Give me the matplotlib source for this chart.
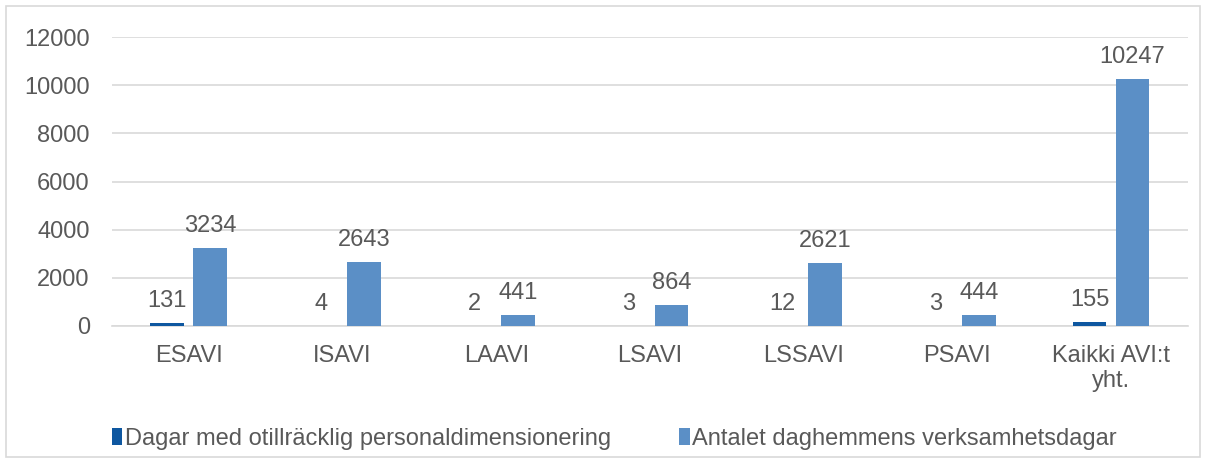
import matplotlib
matplotlib.use("Agg")
import matplotlib.pyplot as plt
import numpy as np
from matplotlib.patches import Rectangle

categories = ["ESAVI", "ISAVI", "LAAVI", "LSAVI", "LSSAVI", "PSAVI", "Kaikki AVI:t\nyht."]
dagar = [131, 4, 2, 3, 12, 3, 155]
antal = [3234, 2643, 441, 864, 2621, 444, 10247]
series_names = ["Dagar med otillräcklig personaldimensionering",
                "Antalet daghemmens verksamhetsdagar"]
yticks = [0, 2000, 4000, 6000, 8000, 10000, 12000]

plt.rcParams['font.family'] = ['Liberation Sans', 'DejaVu Sans']
txt = '#595959'
c_dark = '#0E57A0'
c_light = '#5B8FC6'
fs = 17

fig = plt.figure(figsize=(12.06, 4.63), dpi=100)
ax = fig.add_axes([0.0929, 0.2959, 0.8921, 0.6241])
x = np.arange(len(categories))
w = 0.22
off = 0.14
b1 = ax.bar(x - off, dagar, w, color=c_dark, label=series_names[0], zorder=3)
b2 = ax.bar(x + off, antal, w, color=c_light, label=series_names[1], zorder=3)
for rects, vals in ((b1, dagar), (b2, antal)):
    for r, v in zip(rects, vals):
        ax.annotate(str(v), (r.get_x() + r.get_width() / 2, v), xytext=(0, 8),
                    textcoords='offset points', ha='center', va='bottom',
                    fontsize=fs, color=txt)
ax.set_ylim(0, 12000)
ax.set_xlim(-0.5, len(categories) - 0.5)
ax.set_yticks(yticks)
ax.set_yticklabels([str(t) for t in yticks])
ax.set_xticks(x)
ax.set_xticklabels(categories, linespacing=1.2)
ax.tick_params(axis='both', length=0, labelsize=fs, colors=txt)
ax.tick_params(axis='y', pad=16)
ax.tick_params(axis='x', pad=13.5)
ax.grid(axis='y', color='#D9D9D9', linewidth=1.2, zorder=0)
for s in ['top', 'right', 'left']:
    ax.spines[s].set_visible(False)
ax.spines['bottom'].set_color('#D9D9D9')
ax.spines['bottom'].set_linewidth(1.2)
leg = fig.legend(loc='lower left', bbox_to_anchor=(0.075, -0.017), ncol=2, frameon=False,
                 fontsize=fs, handlelength=0.45, handleheight=0.7, handletextpad=0.1,
                 columnspacing=2.9, labelcolor=txt)
fig.patches.append(Rectangle((0.005, 0.012), 0.99, 0.976, transform=fig.transFigure,
                             fill=False, edgecolor='#D9D9D9', linewidth=1.2))
fig.savefig('out.png', dpi=100)
